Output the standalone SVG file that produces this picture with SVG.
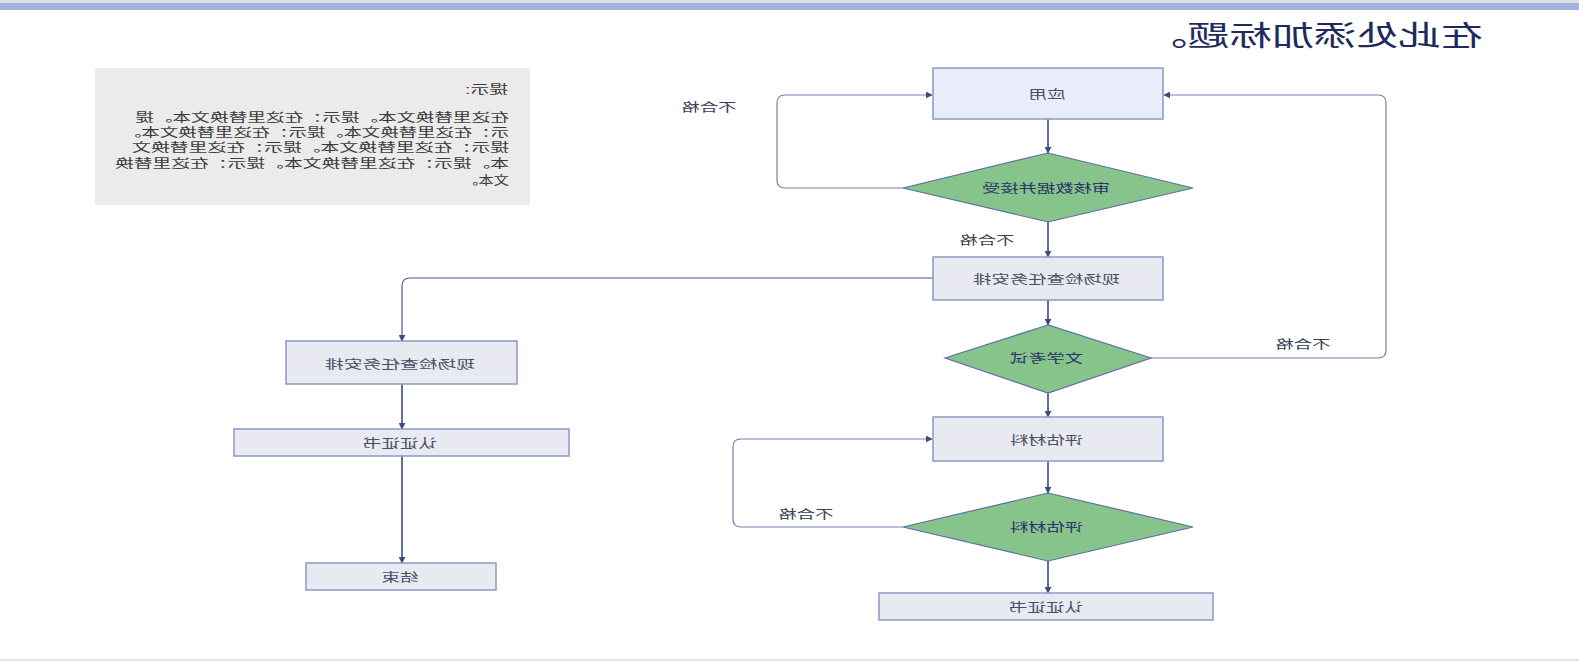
<svg xmlns="http://www.w3.org/2000/svg" width="1579" height="661" viewBox="0 0 1579 661">
<defs>
<marker id="ah" viewBox="0 0 10 10" refX="9" refY="5" markerWidth="7" markerHeight="7" markerUnits="userSpaceOnUse" orient="auto"><path d="M0,0 L10,5 L0,10 z" fill="#3d4b80"/></marker>
<style>
.box{fill:#e8e9f1;stroke:#8b98c4;stroke-width:1.5}
.box1{fill:#e9ecf9;stroke:#8b98c4;stroke-width:1.5}
.dia{fill:#87c48b;stroke:#5d6ea8;stroke-width:1.2}
.lbl{font-family:"Liberation Sans","Noto Sans CJK SC",sans-serif;font-size:12.5px;fill:#4a4f66;text-anchor:middle}
.dlbl{font-family:"Liberation Sans","Noto Sans CJK SC",sans-serif;font-size:12.5px;fill:#2b3566;text-anchor:middle}
.edge{fill:none;stroke:#3d4b80;stroke-width:1.6}
.loop{fill:none;stroke:#7280ae;stroke-width:1.2}
.elbl{font-family:"Liberation Sans","Noto Sans CJK SC",sans-serif;font-size:12.5px;fill:#3a3f55;text-anchor:middle}
.hint{font-family:"Liberation Sans","Noto Sans CJK SC",sans-serif;font-size:12px;fill:#3a3a3a}
</style>
</defs>
<rect x="0" y="0" width="1579" height="661" fill="#ffffff"/>
<rect x="0" y="0" width="1579" height="3" fill="#e2e2e2"/>
<rect x="0" y="3" width="1579" height="7" fill="#a3b3df"/>
<rect x="0" y="659" width="1579" height="2" fill="#e4e4e4"/>
<g transform="matrix(-1 0 0 1 1579 0)">
<g id="title"><text x="96" y="46" font-family="Liberation Serif,'Noto Sans CJK SC',serif" font-size="28" fill="#1f2b5c" textLength="338" lengthAdjust="spacingAndGlyphs">在此处添加标题。</text></g>
<g id="hint">
<rect x="1049" y="68" width="435" height="137" fill="#ebebeb"/>
<text class="hint" x="1071" y="94" textLength="43" lengthAdjust="spacingAndGlyphs">提示:</text>
<text class="hint" x="1070" y="122" textLength="374" lengthAdjust="spacingAndGlyphs">在这里替换文本。提示：在这里替换文本。提</text>
<text class="hint" x="1070" y="137" textLength="386" lengthAdjust="spacingAndGlyphs">示：在这里替换文本。提示：在这里替换文本。</text>
<text class="hint" x="1070" y="152" textLength="377" lengthAdjust="spacingAndGlyphs">提示：在这里替换文本。提示：在这里替换文</text>
<text class="hint" x="1070" y="168" textLength="394" lengthAdjust="spacingAndGlyphs">本。提示：在这里替换文本。提示：在这里替换</text>
<text class="hint" x="1070" y="185" textLength="46" lengthAdjust="spacingAndGlyphs">文本。</text>
</g>
<g id="connectors">
<path class="edge" d="M531,119 V153" marker-end="url(#ah)"/>
<path class="edge" d="M531,222 V257" marker-end="url(#ah)"/>
<path class="edge" d="M531,300 V325" marker-end="url(#ah)"/>
<path class="edge" d="M531,393 V417" marker-end="url(#ah)"/>
<path class="edge" d="M531,461 V493" marker-end="url(#ah)"/>
<path class="edge" d="M531,561 V593" marker-end="url(#ah)"/>
<path class="loop" d="M676,188 H794 Q802,188 802,180 V103 Q802,95 794,95 H647" marker-end="url(#ah)"/>
<path class="loop" d="M428,358 H201 Q193,358 193,350 V103 Q193,95 201,95 H415" marker-end="url(#ah)"/>
<path class="loop" d="M676,527 H838 Q846,527 846,519 V447 Q846,439 838,439 H647" marker-end="url(#ah)"/>
<path class="loop" style="stroke:#4a5890" d="M646,278 H1169 Q1177,278 1177,286 V341" marker-end="url(#ah)"/>
<path class="edge" d="M1177,384 V429" marker-end="url(#ah)"/>
<path class="edge" d="M1177,456 V563" marker-end="url(#ah)"/>
<text class="elbl" x="870" y="112" textLength="55" lengthAdjust="spacingAndGlyphs">不合格</text>
<text class="elbl" x="592" y="245" textLength="55" lengthAdjust="spacingAndGlyphs">不合格</text>
<text class="elbl" x="276" y="349" textLength="55" lengthAdjust="spacingAndGlyphs">不合格</text>
<text class="elbl" x="773" y="519" textLength="55" lengthAdjust="spacingAndGlyphs">不合格</text>
</g>
<g id="n_apply"><rect class="box1" x="416" y="68" width="230" height="51"/><text class="lbl" x="532" y="98.5" textLength="37" lengthAdjust="spacingAndGlyphs">应用</text></g>
<g id="n_review"><polygon class="dia" points="531,153 676,188 531,222 386,188"/><text class="dlbl" x="533" y="192.5" textLength="128" lengthAdjust="spacingAndGlyphs">审核数据并接受</text></g>
<g id="n_site1"><rect class="box" x="416" y="257" width="230" height="43"/><text class="lbl" x="532.5" y="284" textLength="147" lengthAdjust="spacingAndGlyphs">现场检查任务安排</text></g>
<g id="n_exam"><polygon class="dia" points="531,325 634,358 531,393 428,358"/><text class="dlbl" x="532.5" y="362.5" textLength="73" lengthAdjust="spacingAndGlyphs">文学考试</text></g>
<g id="n_eval"><rect class="box" x="416" y="417" width="230" height="44"/><text class="lbl" x="532.5" y="444.5" textLength="73" lengthAdjust="spacingAndGlyphs">评估材料</text></g>
<g id="n_eval2"><polygon class="dia" points="531,493 676,527 531,561 386,527"/><text class="dlbl" x="532.5" y="531.5" textLength="73" lengthAdjust="spacingAndGlyphs">评估材料</text></g>
<g id="n_cert1"><rect class="box" x="366" y="593" width="334" height="27"/><text class="lbl" x="533" y="611.5" textLength="74" lengthAdjust="spacingAndGlyphs">认证证书</text></g>
<g id="n_site2"><rect class="box" x="1062" y="341" width="231" height="43"/><text class="lbl" x="1179" y="368.5" textLength="150" lengthAdjust="spacingAndGlyphs">现场检查任务安排</text></g>
<g id="n_cert2"><rect class="box" x="1010" y="429" width="335" height="27"/><text class="lbl" x="1179" y="447.5" textLength="74" lengthAdjust="spacingAndGlyphs">认证证书</text></g>
<g id="n_end"><rect class="box" x="1083" y="563" width="190" height="27"/><text class="lbl" x="1179" y="581.5" textLength="37" lengthAdjust="spacingAndGlyphs">结束</text></g>
</g>
</svg>
